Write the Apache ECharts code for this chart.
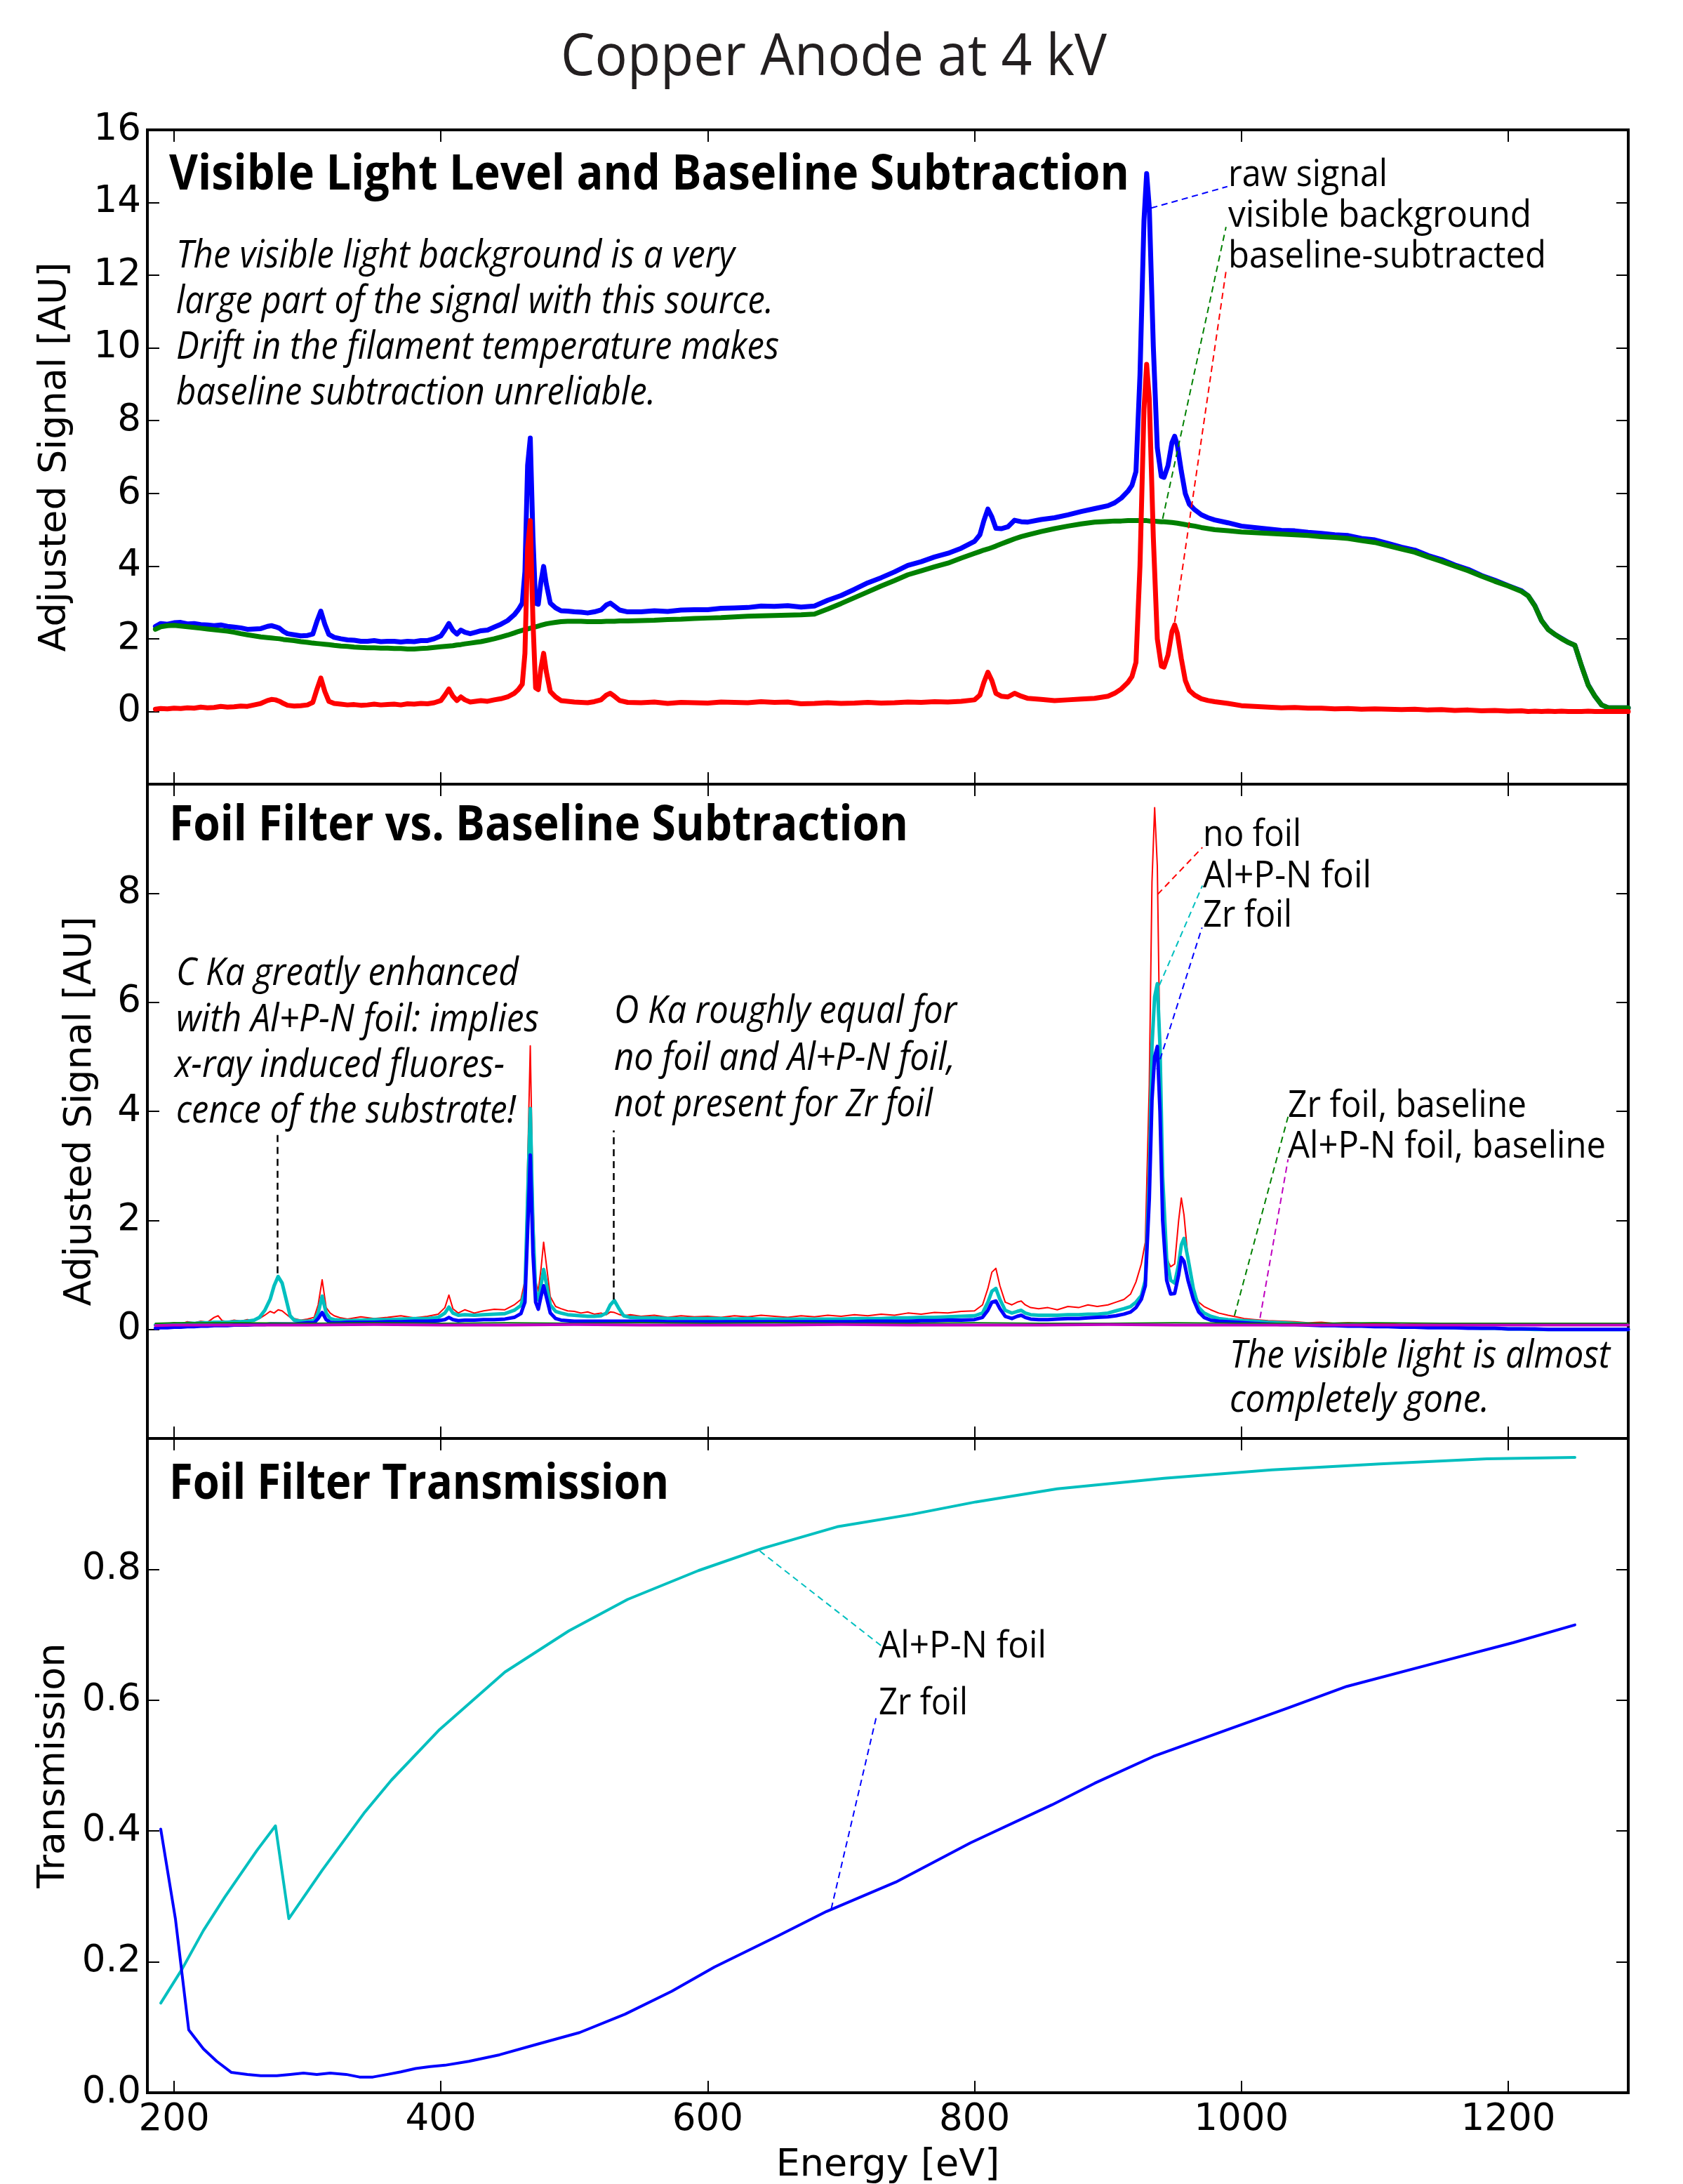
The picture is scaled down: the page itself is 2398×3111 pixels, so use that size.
<!DOCTYPE html>
<html><head><meta charset="utf-8">
<script src="https://cdn.jsdelivr.net/npm/echarts@6/dist/echarts.min.js"></script>
<style>html,body{margin:0;padding:0;background:#fff}#c{width:2398px;height:3111px}</style>
</head><body><div id="c"></div>
<script>
// ---------------- DATA ----------------
const xTicks = [200, 400, 600, 800, 1000, 1200];

// Panel 1: energy grid [eV]
const E1 = [
186,190,195,200,205,210,215,220,225,230,
235,240,245,250,255,260,265,270,273,276,
279,282,285,290,295,300,304,307,310,313,
316,320,325,330,335,340,345,350,355,360,
365,370,375,380,385,390,395,400,403,406,
409,412,415,418,422,426,430,435,440,445,
450,455,458,461,463,465,467,469,471,473,
475,477,479,482,486,490,495,500,505,510,
515,520,524,527,530,534,540,550,560,570,
580,590,600,610,620,630,640,650,660,670,
680,690,700,710,720,730,740,750,760,770,
780,790,800,804,807,810,813,816,820,825,
830,835,840,850,860,870,880,890,900,905,
910,915,918,921,924,927,929,931,934,937,
940,942,945,948,950,952,955,958,961,965,
970,975,980,990,1000,1010,1020,1030,1040,1050,
1060,1070,1080,1090,1100,1110,1120,1130,1140,1150,
1160,1170,1180,1190,1200,1210,1215,1220,1225,1230,
1235,1240,1245,1250,1255,1260,1265,1270,1275,1280,
1285,1290];

const rawSignal = [
2.34,2.42,2.40,2.44,2.45,2.41,2.42,2.39,2.38,2.36,
2.38,2.34,2.32,2.30,2.26,2.27,2.28,2.34,2.36,2.33,
2.29,2.20,2.14,2.11,2.08,2.09,2.13,2.47,2.76,2.40,
2.12,2.04,2.00,1.97,1.96,1.93,1.93,1.95,1.92,1.93,
1.93,1.91,1.93,1.92,1.95,1.95,2.00,2.08,2.24,2.42,
2.23,2.13,2.24,2.18,2.14,2.18,2.22,2.24,2.32,2.40,
2.50,2.66,2.80,2.98,3.85,6.77,7.52,4.81,2.98,2.95,
3.57,3.99,3.51,2.98,2.85,2.77,2.76,2.74,2.73,2.71,
2.74,2.79,2.93,2.98,2.90,2.79,2.74,2.74,2.77,2.75,
2.79,2.80,2.80,2.84,2.85,2.86,2.90,2.89,2.91,2.87,
2.90,3.06,3.19,3.36,3.54,3.68,3.84,4.02,4.12,4.25,
4.35,4.49,4.68,4.86,5.25,5.57,5.35,5.04,5.03,5.08,
5.26,5.22,5.21,5.28,5.33,5.41,5.50,5.58,5.66,5.74,
5.87,6.06,6.22,6.60,9.25,13.5,14.8,13.85,10.05,7.25,
6.47,6.44,6.76,7.40,7.57,7.33,6.61,5.99,5.70,5.55,
5.41,5.33,5.27,5.19,5.10,5.06,5.02,4.98,4.97,4.93,
4.90,4.86,4.84,4.76,4.72,4.62,4.52,4.44,4.29,4.18,
4.03,3.91,3.74,3.61,3.46,3.32,3.18,2.91,2.50,2.26,
2.12,2.01,1.90,1.82,1.25,0.73,0.42,0.18,0.10,0.10,
0.10,0.10];

const visibleBackground = [
2.26,2.33,2.36,2.37,2.35,2.33,2.31,2.29,2.27,2.25,
2.23,2.21,2.18,2.14,2.11,2.08,2.05,2.03,2.02,2.01,
2.00,1.98,1.97,1.95,1.92,1.90,1.88,1.87,1.86,1.85,
1.84,1.82,1.80,1.79,1.77,1.76,1.75,1.75,1.74,1.74,
1.73,1.73,1.72,1.72,1.73,1.74,1.76,1.78,1.79,1.80,
1.81,1.83,1.84,1.86,1.88,1.90,1.92,1.96,2.00,2.05,
2.10,2.16,2.20,2.23,2.25,2.27,2.29,2.31,2.33,2.35,
2.37,2.39,2.41,2.43,2.45,2.47,2.48,2.48,2.48,2.47,
2.47,2.47,2.48,2.48,2.48,2.49,2.49,2.50,2.51,2.53,
2.54,2.56,2.57,2.58,2.60,2.62,2.63,2.64,2.65,2.66,
2.68,2.82,2.97,3.13,3.29,3.45,3.60,3.76,3.87,3.98,
4.08,4.22,4.35,4.40,4.44,4.47,4.51,4.55,4.61,4.68,
4.75,4.81,4.86,4.95,5.03,5.10,5.16,5.21,5.23,5.24,
5.24,5.25,5.25,5.25,5.25,5.25,5.25,5.24,5.24,5.23,
5.22,5.22,5.21,5.20,5.19,5.18,5.16,5.14,5.12,5.10,
5.06,5.03,5.00,4.97,4.94,4.92,4.90,4.88,4.86,4.84,
4.81,4.79,4.76,4.70,4.65,4.56,4.47,4.38,4.25,4.13,
4.00,3.87,3.72,3.58,3.45,3.30,3.18,2.90,2.50,2.25,
2.12,2.00,1.90,1.82,1.25,0.72,0.42,0.18,0.10,0.10,
0.10,0.10];

const baselineSubtracted = [
0.06,0.08,0.07,0.09,0.08,0.10,0.09,0.12,0.10,0.11,
0.14,0.12,0.13,0.15,0.14,0.18,0.22,0.30,0.33,0.32,
0.28,0.22,0.17,0.15,0.16,0.18,0.25,0.60,0.92,0.55,
0.28,0.22,0.20,0.18,0.19,0.17,0.18,0.20,0.18,0.19,
0.20,0.18,0.21,0.20,0.22,0.21,0.24,0.30,0.45,0.62,
0.42,0.30,0.40,0.32,0.26,0.28,0.30,0.28,0.32,0.35,
0.40,0.50,0.60,0.75,1.60,4.50,5.25,2.50,0.65,0.60,
1.20,1.60,1.10,0.55,0.40,0.30,0.28,0.26,0.25,0.24,
0.27,0.32,0.45,0.50,0.42,0.30,0.25,0.24,0.26,0.22,
0.25,0.24,0.23,0.26,0.25,0.24,0.27,0.25,0.26,0.21,
0.22,0.24,0.22,0.23,0.25,0.23,0.24,0.26,0.25,0.27,
0.26,0.28,0.32,0.45,0.80,1.08,0.85,0.50,0.42,0.40,
0.50,0.42,0.36,0.33,0.30,0.32,0.34,0.36,0.42,0.50,
0.62,0.80,0.96,1.35,4.00,8.30,9.55,8.60,4.80,2.00,
1.25,1.22,1.55,2.20,2.38,2.15,1.45,0.85,0.58,0.45,
0.35,0.30,0.27,0.22,0.16,0.14,0.12,0.10,0.11,0.09,
0.09,0.07,0.08,0.06,0.07,0.06,0.05,0.06,0.04,0.05,
0.03,0.04,0.02,0.03,0.01,0.02,0.00,0.01,0.00,0.01,
0.00,0.01,0.00,0.00,0.00,0.01,0.00,0.00,0.00,0.00,
0.00,0.00];

// Panel 2: energy grid [eV]
const E2 = [
186,190,195,200,205,210,215,220,225,230,
233,236,240,245,250,255,260,264,268,272,
275,278,281,284,287,290,295,300,305,308,
311,314,317,320,325,330,340,350,360,370,
380,390,398,403,406,409,413,418,425,432,
440,448,455,460,463,465,467,469,471,473,
475,477,479,482,486,490,495,500,505,510,
515,520,524,527,530,533,537,542,550,560,
570,580,590,600,610,620,630,640,650,660,
670,680,690,700,710,720,730,740,750,760,
770,780,790,800,806,810,813,816,819,823,
828,832,835,838,842,848,855,862,870,878,
885,892,900,906,912,917,921,925,928,931,
933,935,937,939,941,944,947,950,953,955,
957,960,964,968,972,977,983,990,996,1002,
1010,1020,1030,1040,1050,1060,1070,1080,1090,1100,
1110,1120,1130,1140,1150,1160,1170,1180,1190,1200,
1210,1220,1230,1240,1250,1260,1270,1280,1290];

const noFoil = [
0.08,0.09,0.10,0.12,0.10,0.14,0.12,0.15,0.13,0.22,
0.25,0.16,0.14,0.17,0.15,0.18,0.16,0.20,0.26,0.33,
0.30,0.36,0.34,0.28,0.22,0.20,0.17,0.19,0.22,0.45,
0.91,0.40,0.30,0.25,0.21,0.19,0.23,0.20,0.22,0.25,
0.21,0.24,0.28,0.40,0.63,0.38,0.30,0.36,0.30,0.34,
0.37,0.36,0.45,0.55,0.90,3.00,5.20,2.40,0.90,0.70,
1.10,1.60,1.20,0.60,0.42,0.38,0.34,0.33,0.30,0.32,
0.28,0.30,0.27,0.32,0.31,0.28,0.25,0.27,0.24,0.26,
0.22,0.25,0.23,0.24,0.22,0.25,0.23,0.26,0.24,0.22,
0.25,0.23,0.26,0.24,0.27,0.25,0.28,0.26,0.30,0.28,
0.31,0.30,0.33,0.34,0.45,0.75,1.05,1.12,0.80,0.50,
0.45,0.50,0.52,0.45,0.40,0.38,0.40,0.36,0.42,0.40,
0.45,0.42,0.45,0.50,0.55,0.65,0.87,1.20,1.60,4.50,
8.20,9.57,8.50,5.00,2.30,1.30,1.15,1.20,2.00,2.41,
2.10,1.30,0.70,0.50,0.42,0.36,0.30,0.26,0.23,0.20,
0.18,0.16,0.15,0.14,0.12,0.13,0.11,0.12,0.11,0.10,
0.11,0.09,0.10,0.09,0.10,0.08,0.09,0.08,0.09,0.08,
0.09,0.08,0.09,0.08,0.09,0.08,0.09,0.08,0.09];

const alFoil = [
0.08,0.09,0.09,0.10,0.10,0.11,0.11,0.12,0.12,0.13,
0.13,0.13,0.13,0.14,0.14,0.15,0.17,0.22,0.35,0.55,
0.80,0.97,0.85,0.55,0.25,0.17,0.15,0.15,0.16,0.30,
0.61,0.30,0.20,0.18,0.17,0.16,0.17,0.18,0.18,0.19,
0.20,0.20,0.22,0.30,0.41,0.30,0.26,0.27,0.26,0.27,
0.28,0.29,0.35,0.44,0.70,2.40,4.05,1.90,0.70,0.54,
0.80,1.10,0.85,0.45,0.33,0.30,0.27,0.26,0.25,0.24,
0.24,0.25,0.30,0.45,0.53,0.40,0.25,0.22,0.21,0.21,
0.20,0.20,0.20,0.20,0.20,0.19,0.20,0.19,0.19,0.19,
0.19,0.19,0.19,0.19,0.20,0.20,0.20,0.21,0.21,0.22,
0.22,0.23,0.24,0.25,0.30,0.50,0.70,0.75,0.55,0.35,
0.30,0.33,0.35,0.30,0.27,0.26,0.26,0.26,0.27,0.27,
0.28,0.28,0.30,0.34,0.38,0.42,0.50,0.62,0.90,2.80,
5.20,6.10,6.34,5.20,2.80,1.30,0.90,0.85,1.20,1.55,
1.67,1.30,0.75,0.40,0.30,0.24,0.20,0.18,0.17,0.16,
0.15,0.13,0.12,0.11,0.10,0.09,0.08,0.08,0.07,0.06,
0.06,0.05,0.05,0.04,0.04,0.03,0.03,0.02,0.02,0.01,
0.01,0.00,0.00,0.00,0.00,0.00,0.00,0.00,0.00];

const zrFoil = [
0.02,0.03,0.03,0.04,0.04,0.05,0.05,0.06,0.06,0.07,
0.07,0.07,0.07,0.08,0.08,0.08,0.09,0.09,0.09,0.10,
0.10,0.10,0.10,0.10,0.10,0.10,0.11,0.12,0.12,0.20,
0.31,0.18,0.13,0.12,0.12,0.13,0.13,0.13,0.14,0.14,
0.15,0.15,0.16,0.18,0.22,0.18,0.16,0.17,0.17,0.18,
0.18,0.19,0.22,0.29,0.50,1.80,3.20,1.40,0.50,0.37,
0.60,0.80,0.60,0.30,0.20,0.17,0.16,0.15,0.15,0.15,
0.15,0.15,0.15,0.15,0.15,0.15,0.15,0.15,0.15,0.15,
0.14,0.14,0.14,0.14,0.14,0.14,0.14,0.14,0.14,0.14,
0.14,0.14,0.14,0.14,0.14,0.15,0.15,0.15,0.15,0.16,
0.16,0.17,0.17,0.18,0.22,0.35,0.50,0.52,0.38,0.24,
0.20,0.24,0.26,0.22,0.19,0.18,0.18,0.19,0.20,0.20,
0.21,0.22,0.23,0.25,0.28,0.32,0.40,0.55,0.80,2.40,
4.20,5.00,5.19,4.00,2.00,0.90,0.65,0.66,1.00,1.32,
1.25,0.90,0.55,0.32,0.22,0.17,0.15,0.14,0.13,0.12,
0.11,0.10,0.09,0.09,0.08,0.07,0.07,0.06,0.06,0.05,
0.05,0.04,0.04,0.03,0.03,0.03,0.02,0.02,0.02,0.01,
0.01,0.01,0.00,0.00,0.00,0.00,0.00,0.00,0.00];

// Panel 2 baselines (coarser grid)
const E2b = [186,200,250,300,350,400,450,500,550,600,650,700,750,800,850,900,950,1000,1050,1100,1150,1200,1250,1290];
const zrBaseline = [0.11,0.12,0.12,0.11,0.12,0.11,0.12,0.11,0.12,0.11,0.12,0.11,0.11,0.12,0.11,0.11,0.12,0.11,0.11,0.12,0.11,0.11,0.11,0.11];
const alBaseline = [0.07,0.08,0.08,0.08,0.09,0.08,0.08,0.09,0.08,0.08,0.08,0.09,0.08,0.08,0.08,0.09,0.08,0.08,0.08,0.08,0.08,0.08,0.08,0.08];

// Panel 3: filter transmission
const E3zr = [190,201,211,222,232,243,255,265,277,287,297,307,317,329,339,349,360,370,381,392,403,421,444,472,504,538,573,605,653,689,741,797,858,890,934,991,1035,1079,1144,1204,1250];
const zrTrans = [0.403,0.266,0.096,0.067,0.048,0.031,0.028,0.026,0.026,0.028,0.030,0.028,0.030,0.028,0.024,0.024,0.028,0.032,0.037,0.040,0.042,0.048,0.058,0.074,0.092,0.120,0.155,0.192,0.240,0.277,0.322,0.382,0.440,0.473,0.514,0.556,0.588,0.621,0.656,0.688,0.715];
const E3al = [190,206,222,238,262,276,286,311,343,363,399,448,496,540,593,641,697,753,801,862,942,1023,1104,1184,1250];
const alTrans = [0.137,0.189,0.248,0.299,0.370,0.408,0.266,0.340,0.429,0.478,0.555,0.643,0.706,0.754,0.798,0.832,0.865,0.884,0.903,0.923,0.939,0.952,0.961,0.969,0.971];

// Annotation connector anchors (data coordinates)
const conn1 = [[[932.5,13.85],[989.5,14.44],'#0000ff'],[[941,5.3],[988.5,13.33],'#008000'],[[950,2.46],[988.8,12.19],'#ff0000']];
const conn2 = [[[937.3,7.98],[970.8,8.84],'#ff0000'],[[938.5,6.31],[970.8,8.14],'#00bfbf'],[[936.7,4.77],[970.5,7.37],'#0000ff'],
               [[994.8,0.25],[1035,3.90],'#008000'],[[1014,0.21],[1035,3.12],'#bf00bf']];
const connBlack = [[[277.7,1.03],[277.7,3.65]],[[529.5,0.55],[529.5,3.65]]];
const conn3 = [[[639,0.828],[732,0.68],'#00bfbf'],[[692.6,0.281],[726.8,0.578],'#0000ff']];

// ---------------- LAYOUT / STYLE ----------------
[[E1,rawSignal],[E1,visibleBackground],[E1,baselineSubtracted],[E2,noFoil],[E2,alFoil],[E2,zrFoil],[E2b,zrBaseline],[E2b,alBaseline],[E3zr,zrTrans],[E3al,alTrans]]
  .forEach((p,i)=>{ if(p[0].length!==p[1].length) console.error('length mismatch', i, p[0].length, p[1].length); });

const pairs = (xs, ys) => xs.map((x, i) => [x, ys[i]]);
const GL = 210, GW = 2110, GH = 932, TOPS = [185, 1117, 2049];
const TICKFONT = 'DejaVu Sans';

const grids = TOPS.map(t => ({left: GL, top: t, width: GW, height: GH, show: true, borderColor: '#000', borderWidth: 4,
  backgroundColor: 'rgba(0,0,0,0)', containLabel: false, outerBoundsMode: 'none'}));

function xAx(gi, pos, labels) {
  return {type: 'value', gridIndex: gi, position: pos, min: 180, max: 1290,
    axisLine: {show: false, onZero: false}, splitLine: {show: false},
    axisTick: {show: true, inside: true, length: 17, customValues: xTicks, lineStyle: {color: '#000', width: 2}},
    axisLabel: {show: labels, customValues: xTicks, fontFamily: TICKFONT, fontSize: 53, color: '#000', margin: 13,
      formatter: v => String(v)},
    name: labels ? 'Energy [eV]' : '', nameLocation: 'middle', nameGap: 77,
    nameTextStyle: {fontFamily: TICKFONT, fontSize: 54, color: '#000'}};
}
function yAx(gi, pos, c) {
  const left = pos === 'left';
  return {type: 'value', gridIndex: gi, position: pos, min: c.min, max: c.max, interval: c.interval,
    axisLine: {show: false, onZero: false}, splitLine: {show: false},
    axisTick: {show: true, inside: true, length: 17, lineStyle: {color: '#000', width: 2}},
    axisLabel: {show: left, fontFamily: TICKFONT, fontSize: 53, color: '#000', margin: 9,
      showMinLabel: c.showMin, showMaxLabel: c.showMax, formatter: c.fmt},
    name: left ? c.name : '', nameLocation: 'middle', nameRotate: 90, nameGap: c.gap,
    nameTextStyle: {fontFamily: TICKFONT, fontSize: 54, color: '#000'}};
}
const ycfg = [
  {min: -2, max: 16, interval: 2, showMin: false, showMax: true, name: 'Adjusted Signal [AU]', gap: 104, fmt: v => String(v)},
  {min: -2, max: 10, interval: 2, showMin: false, showMax: false, name: 'Adjusted Signal [AU]', gap: 68, fmt: v => String(v)},
  {min: 0, max: 1, interval: 0.2, showMin: true, showMax: false, name: 'Transmission', gap: 106, fmt: v => v.toFixed(1)}
];

const xAxes = [xAx(0,'bottom',false), xAx(1,'bottom',false), xAx(2,'bottom',true), xAx(0,'top',false), xAx(1,'top',false), xAx(2,'top',false)];
const yAxes = [yAx(0,'left',ycfg[0]), yAx(1,'left',ycfg[1]), yAx(2,'left',ycfg[2]), yAx(0,'right',ycfg[0]), yAx(1,'right',ycfg[1]), yAx(2,'right',ycfg[2])];

function ln(name, xs, ys, gi, color, w, extra) {
  return Object.assign({type: 'line', name, data: pairs(xs, ys), xAxisIndex: gi, yAxisIndex: gi,
    showSymbol: false, symbol: 'none', animation: false, silent: true, smooth: false,
    lineStyle: {color, width: w, join: 'round', cap: 'round'}}, extra || {});
}
function mk(list, dash, width) {
  return {silent: true, animation: false, symbol: ['none', 'none'], label: {show: false}, emphasis: {disabled: true},
    data: list.map(c => [{coord: c[0], lineStyle: {color: c[2] || '#000', width: width || 2, type: dash}}, {coord: c[1]}])};
}

const series = [
  ln('raw signal', E1, rawSignal, 0, '#0000ff', 7),
  ln('visible background', E1, visibleBackground, 0, '#008000', 7),
  ln('baseline-subtracted', E1, baselineSubtracted, 0, '#ff0000', 7, {markLine: mk(conn1, [9, 6], 2)}),
  ln('no foil', E2, noFoil, 1, '#ff0000', 2),
  ln('Al+P-N foil', E2, alFoil, 1, '#00bfbf', 5),
  ln('Zr foil', E2, zrFoil, 1, '#0000ff', 5),
  ln('Zr foil, baseline', E2b, zrBaseline, 1, '#008000', 2),
  ln('Al+P-N foil, baseline', E2b, alBaseline, 1, '#bf00bf', 4, {markLine: {
      silent: true, animation: false, symbol: ['none','none'], label: {show: false}, emphasis: {disabled: true},
      data: mk(conn2, [9, 6], 2).data.concat(mk(connBlack, [10, 7], 2.5).data)}}),
  ln('Al+P-N foil T', E3al, alTrans, 2, '#00bfbf', 4),
  ln('Zr foil T', E3zr, zrTrans, 2, '#0000ff', 4, {markLine: mk(conn3, [9, 6], 2)})
];

// ---------------- TEXT ----------------
const FAM = '"Open Sans", Lato, sans-serif';
const mctx = document.createElement('canvas').getContext('2d');
function txt(s, left, base, fs, weight, fstyle, width, color) {
  const font = fstyle + ' ' + weight + ' ' + fs + 'px ' + FAM;
  mctx.font = font;
  mctx.textBaseline = 'middle';
  const m = mctx.measureText(s);
  let off = Math.abs(m.alphabeticBaseline || 0);
  if (!off || off > fs) off = 0.37 * fs;
  return {type: 'text', x: left, y: base - off, scaleX: width / m.width, silent: true, z: 100,
    style: {text: s, font: font, fill: color || '#000', textAlign: 'left', textVerticalAlign: 'middle', align: 'left', verticalAlign: 'middle'}};
}
const T = 83, B = 69, I = 55, L = 52.5;
const texts = [
  ['Copper Anode at 4 kV', 799, 107, T, 400, 'normal', 778, '#231f20'],
  ['Visible Light Level and Baseline Subtraction', 241, 270, B, 700, 'normal', 1368],
  ['The visible light background is a very', 251, 381, I, 400, 'italic', 796],
  ['large part of the signal with this source.', 251, 446, I, 400, 'italic', 851],
  ['Drift in the filament temperature makes', 251, 511, I, 400, 'italic', 859],
  ['baseline subtraction unreliable.', 251, 576, I, 400, 'italic', 683],
  ['raw signal', 1750, 265, L, 400, 'normal', 227],
  ['visible background', 1750, 323, L, 400, 'normal', 432],
  ['baseline-subtracted', 1750, 381, L, 400, 'normal', 453],
  ['Foil Filter vs. Baseline Subtraction', 241, 1197, B, 700, 'normal', 1053],
  ['C Ka greatly enhanced', 251, 1403, I, 400, 'italic', 488],
  ['with Al+P-N foil: implies', 251, 1469, I, 400, 'italic', 517],
  ['x-ray induced fluores-', 249, 1534, I, 400, 'italic', 470],
  ['cence of the substrate!', 251, 1599, I, 400, 'italic', 484],
  ['O Ka roughly equal for', 875, 1457, I, 400, 'italic', 488],
  ['no foil and Al+P-N foil,', 875, 1524, I, 400, 'italic', 486],
  ['not present for Zr foil', 875, 1590, I, 400, 'italic', 454],
  ['no foil', 1714, 1205, L, 400, 'normal', 140],
  ['Al+P-N foil', 1714, 1264, L, 400, 'normal', 240],
  ['Zr foil', 1714, 1320, L, 400, 'normal', 127],
  ['Zr foil, baseline', 1835, 1591, L, 400, 'normal', 340],
  ['Al+P-N foil, baseline', 1835, 1649, L, 400, 'normal', 453],
  ['The visible light is almost', 1752, 1948, I, 400, 'italic', 542],
  ['completely gone.', 1752, 2011, I, 400, 'italic', 370],
  ['Foil Filter Transmission', 241, 2135, B, 700, 'normal', 712],
  ['Al+P-N foil', 1252, 2361, L, 400, 'normal', 239],
  ['Zr foil', 1252, 2442, L, 400, 'normal', 127]
];

const chart = echarts.init(document.getElementById('c'), null, {renderer: 'canvas', width: 2398, height: 3111});
chart.setOption({
  backgroundColor: '#ffffff',
  animation: false,
  textStyle: {fontFamily: TICKFONT},
  grid: grids,
  xAxis: xAxes,
  yAxis: yAxes,
  series: series,
  graphic: {elements: texts.map(t => txt.apply(null, t))}
});
</script>
</body></html>
